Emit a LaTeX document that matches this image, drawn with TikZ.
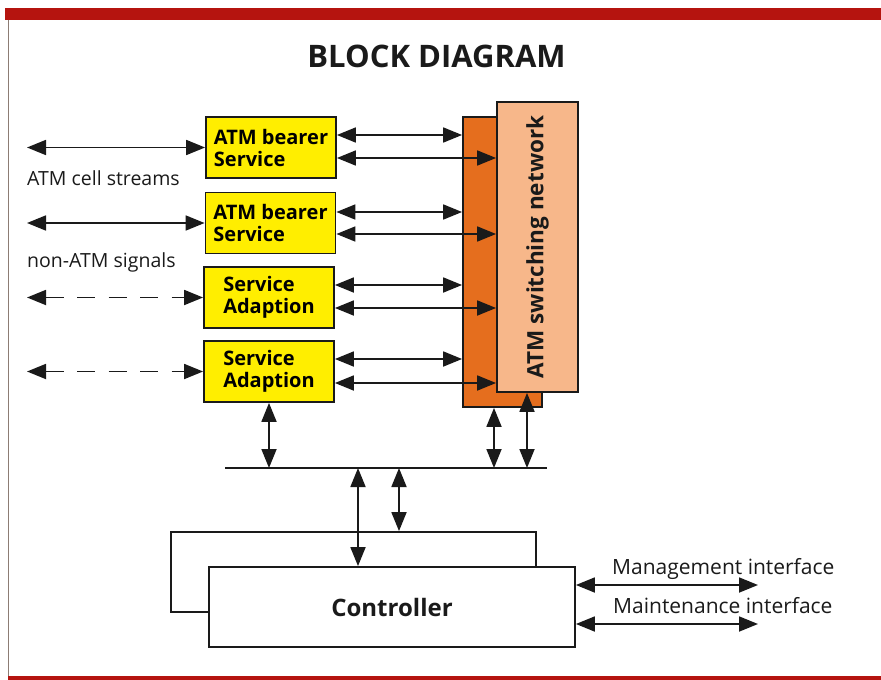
\documentclass[tikz,border=0pt]{standalone}
\usepackage{fontspec}
\setmainfont{Open Sans}
\usetikzlibrary{arrows.meta}
\definecolor{bandred}{HTML}{B5140F}
\definecolor{boxyellow}{HTML}{FFEE00}
\definecolor{darkor}{HTML}{E56E1E}
\definecolor{lightor}{HTML}{F7B78A}
\definecolor{edgegray}{HTML}{8C7C74}
\definecolor{ink}{HTML}{1A1A1A}
\tikzset{
  blk/.style={draw=ink, line width=1.8pt, fill=boxyellow, minimum width=130pt, minimum height=61pt,
    inner sep=0pt, align=left, font=\fontsize{20}{22}\selectfont\bfseries},
  arr/.style={line width=1.8pt, draw=ink, arrows={Triangle[length=19pt,width=15pt]-Triangle[length=19pt,width=15pt]}},
  dasharr/.style={arr, dash pattern=on 18pt off 13.5pt, dash phase=0pt},
  lbl/.style={font=\fontsize{19.5}{22}\selectfont, inner sep=0pt, text=ink},
  lblwide/.style={font=\fontsize{21}{23}\selectfont, inner sep=0pt, text=ink},
}
\begin{document}
\begin{tikzpicture}[x=1pt,y=-1pt]
\useasboundingbox (0,0) rectangle (881,680);
% frame
\fill[bandred] (5,8) rectangle (881,20);
\fill[bandred] (8,676) rectangle (881,680);
\draw[edgegray, line width=1pt] (8,20) -- (8,676);
% title
\node[anchor=base, inner sep=0pt, font=\fontsize{31}{34}\selectfont\bfseries, text=ink] (title) at (436.5,67) {BLOCK DIAGRAM};
% yellow boxes
\node[blk] (b1) at (271,147.5) {ATM bearer\\Service};
\node[blk] (b2) at (270.5,223) {ATM bearer\\Service};
\node[blk] (b3) at (269,297.5) {Service\\Adaption};
\node[blk] (b4) at (269,371.5) {Service\\Adaption};
% switching network
\node[draw=ink, line width=1.8pt, fill=darkor, minimum width=79pt, minimum height=290pt, inner sep=0pt] (dark) at (502.5,262) {};
\node[draw=ink, line width=1.8pt, fill=lightor, minimum width=81pt, minimum height=290pt, inner sep=0pt] (light) at (537.5,247) {};
\node[rotate=90, font=\fontsize{22.5}{24}\selectfont\bfseries, text=ink, inner sep=0pt] (swlbl) at (light.center) {ATM switching network};
% arrows box -> network
\foreach \b/\u/\l in {b1/12.5/-10.5, b2/11/-11, b3/12.5/-10.5, b4/12.5/-11.5}{
  \draw[arr] ([yshift=\u pt]\b.east) -- ([yshift=\u pt]\b.east -| dark.west);
  \draw[arr] ([yshift=\l pt]\b.east) -- ([yshift=\l pt]\b.east -| light.west);
}
% left inputs
\coordinate (l1) at (27,147.5);
\coordinate (l2) at (27,223);
\coordinate (l3) at (27,297.5);
\coordinate (l4) at (27,371.5);
\draw[arr] (l1) -- (b1.west);
\draw[arr] (l2) -- (b2.west);
\draw[dasharr] (l3) -- (b3.west);
\draw[dasharr] (l4) -- (b4.west);
\node[lbl, anchor=base west] (cells) at (27,185) {ATM cell streams};
\node[lbl, anchor=base west] (nonatm) at (27,267) {non-ATM signals};
% bus
\coordinate (busL) at (225,468);
\coordinate (busR) at (547,468);
\draw[line width=1.8pt, draw=ink] (busL) -- (busR);
\draw[arr] (b4.south) -- (b4.south |- busL);
\draw[arr] ([xshift=-8.5pt]dark.south) -- ([xshift=-8.5pt]dark.south |- busL);
\draw[arr] ([xshift=-10.5pt]light.south) -- ([xshift=-10.5pt]light.south |- busL);
% controller
\node[draw=ink, line width=1.8pt, minimum width=365pt, minimum height=80pt, inner sep=0pt] (back) at (353.5,572) {};
\node[draw=ink, line width=1.8pt, fill=white, minimum width=366pt, minimum height=80pt, inner sep=0pt,
  font=\fontsize{24}{26}\selectfont\bfseries, text=ink] (ctrl) at (392,607) {Controller};
\draw[arr] ([xshift=-34pt]ctrl.north |- busL) -- ([xshift=-34pt]ctrl.north);
\draw[arr] ([xshift=45.5pt]back.north |- busL) -- ([xshift=45.5pt]back.north);
% interfaces
\coordinate (m1) at (758,585);
\coordinate (m2) at (758,624);
\draw[arr] (ctrl.east |- m1) -- (m1);
\draw[arr] (ctrl.east |- m2) -- (m2);
\node[lblwide, anchor=base west] (mgmt) at (612,574) {Management interface};
\node[lblwide, anchor=base west] (maint) at (613,613) {Maintenance interface};
\end{tikzpicture}
\end{document}
